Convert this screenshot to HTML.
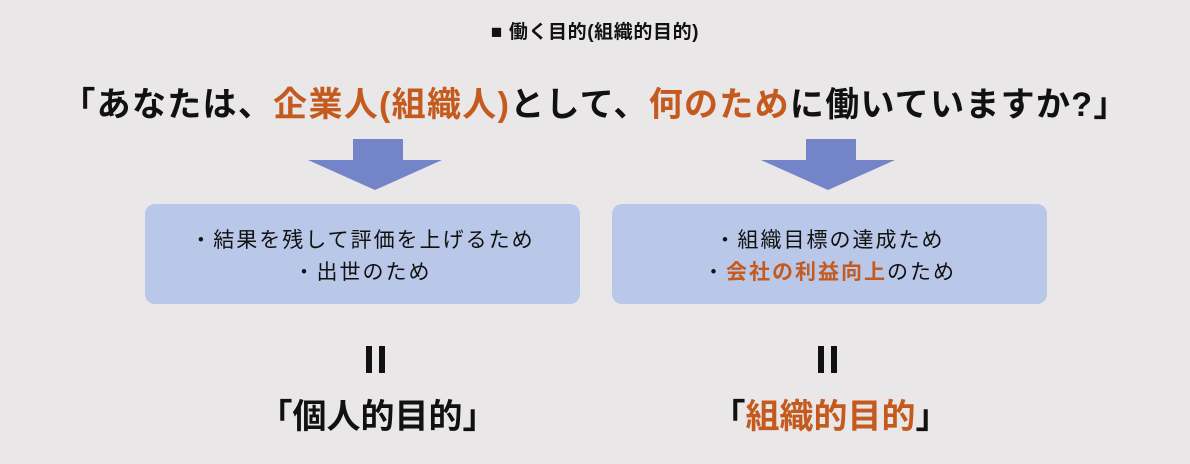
<!DOCTYPE html>
<html><head><meta charset="utf-8"><style>
body{margin:0;width:1190px;height:464px;background:#e9e7e8;position:relative;overflow:hidden;font-family:"Liberation Sans","Noto Sans CJK JP",sans-serif;color:#111}
.a{position:absolute;white-space:nowrap}
.o{color:#c55a1e}
.box{position:absolute;top:204px;width:435px;height:100px;background:#b9c7e8;border-radius:10px;text-align:center;font-size:21px;letter-spacing:2px;line-height:32px;padding-top:21px;box-sizing:border-box}
.bar{position:absolute;background:#111;width:6px;height:27px;top:346px}
</style></head><body>
<div class="a" style="left:0;width:1190px;text-align:center;top:17px;font-size:19px;font-weight:bold;letter-spacing:0.6px">■ 働く目的(組織的目的)</div>
<div class="a" style="left:0;width:1190px;text-align:center;top:77px;font-size:34px;font-weight:bold;letter-spacing:1.3px">「あなたは、<span class="o">企業人(組織人)</span>として、<span class="o">何のため</span>に働いていますか?」</div>
<svg class="a" style="left:0;top:0" width="1190" height="464">
<polygon fill="#7384c9" points="353,139 403,139 403,160 442,160 375,190 308,160 353,160"/>
<polygon fill="#7384c9" points="806,139 856,139 856,160 895,160 828,190 761,160 806,160"/>
</svg>
<div class="box" style="left:145px">・結果を残して評価を上げるため<br>・出世のため</div>
<div class="box" style="left:612px">・組織目標の達成ため<br>・<span class="o" style="font-weight:bold">会社の利益向上</span>のため</div>
<div class="bar" style="left:366px"></div><div class="bar" style="left:379px"></div>
<div class="bar" style="left:818px"></div><div class="bar" style="left:831px"></div>
<div class="a" style="left:160px;width:435px;text-align:center;top:389px;font-size:34px;font-weight:bold">「個人的目的」</div>
<div class="a" style="left:613px;width:435px;text-align:center;top:389px;font-size:34px;font-weight:bold">「<span class="o">組織的目的</span>」</div>
</body></html>
